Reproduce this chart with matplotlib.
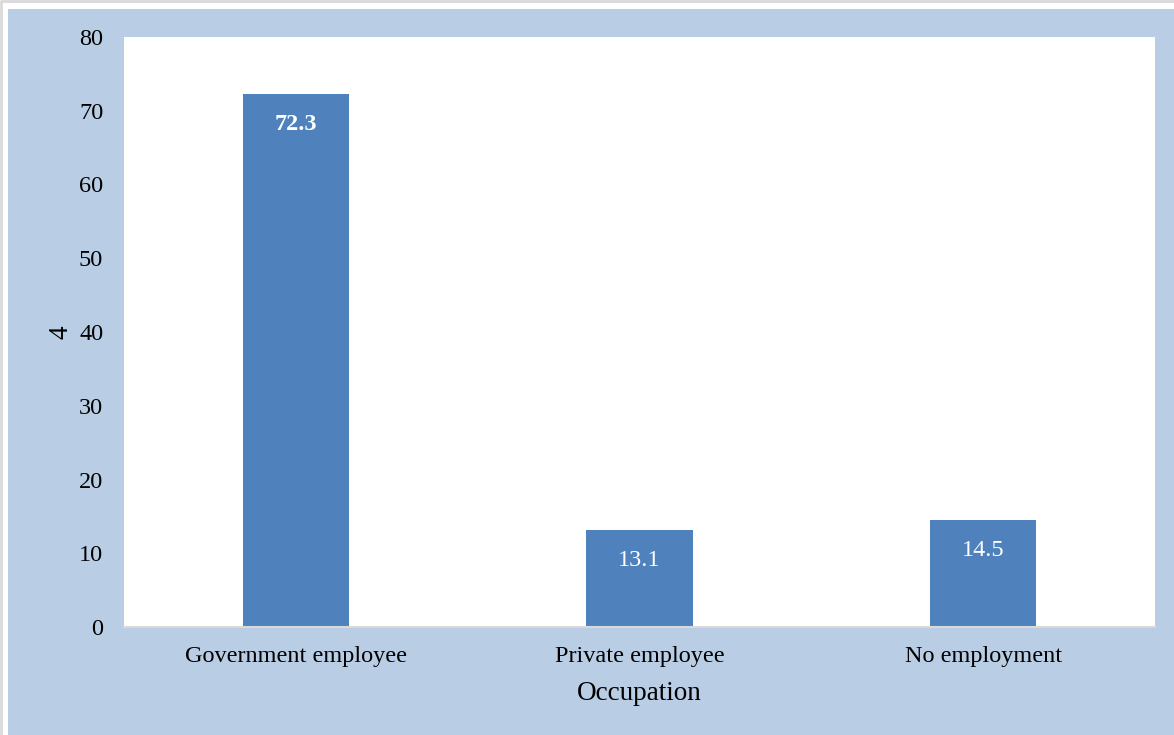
import matplotlib.pyplot as plt
from matplotlib.patches import Rectangle
from matplotlib.lines import Line2D

plt.rcParams["font.family"] = ["Liberation Serif", "DejaVu Serif"]

categories = ["Government employee", "Private employee", "No employment"]
values = [72.3, 13.1, 14.5]
label_bold = [True, False, False]

W, H = 1174, 735
fig = plt.figure(figsize=(W / 100, H / 100), dpi=100, facecolor="white")

# light blue chart area, thin grey edge at top and left of the page
fig.lines.append(Line2D([0.5 / W, 0.5 / W, 1], [0, 1 - 0.5 / H, 1 - 0.5 / H],
                        transform=fig.transFigure, color="#D9D9D9", linewidth=2, zorder=-10))
fig.patches.append(Rectangle((8 / W, 0), 1 - 8 / W, 1 - 9 / H, transform=fig.transFigure,
                             facecolor="#B9CDE5", edgecolor="none", zorder=-10))

ax = fig.add_axes([124 / W, 1 - 627 / H, (1155 - 124) / W, (627 - 37) / H])
ax.set_facecolor("white")

x = range(len(categories))
bars = ax.bar(x, values, width=0.31, color="#4F81BD")

for rect, v, b in zip(bars, values, label_bold):
    ax.annotate(f"{v}", (rect.get_x() + rect.get_width() / 2, v),
                xytext=(0, -22), textcoords="offset points",
                ha="center", va="center", color="white", fontsize=17.5,
                fontweight="bold" if b else "normal")

ax.set_xlim(-0.5, 2.5)
ax.set_ylim(0, 80)
ax.set_yticks(range(0, 81, 10))
ax.set_xticks(list(x))
ax.set_xticklabels(categories)
ax.tick_params(axis="both", length=0, labelsize=17.5, colors="black")
ax.tick_params(axis="y", pad=15)
ax.tick_params(axis="x", pad=14)

for s in ["top", "right", "left"]:
    ax.spines[s].set_visible(False)
ax.spines["bottom"].set_color("#D9D9D9")
ax.spines["bottom"].set_linewidth(1.5)

ax.set_xlabel("Occupation", fontsize=19.5, labelpad=10)
ax.set_ylabel("4", fontsize=19.5, labelpad=4)

fig.savefig("out.png", dpi=100, facecolor=fig.get_facecolor())
